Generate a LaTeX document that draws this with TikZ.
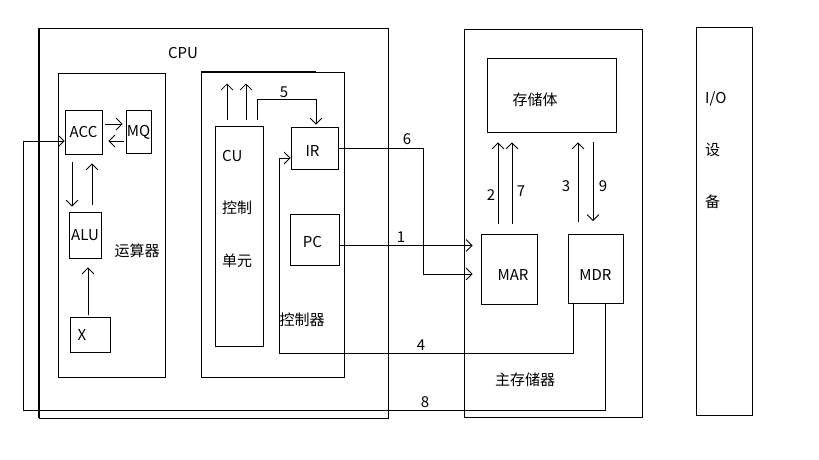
\documentclass[tikz,border=0pt]{standalone}
\usepackage{fontspec}
\setmainfont{Noto Sans CJK SC}
\usepackage{tikz}
\usetikzlibrary{positioning,arrows.meta}
\tikzset{
  blk/.style={draw, line width=0.8pt, inner sep=0pt},
  flow/.style={->, line width=0.8pt},
  wire/.style={line width=0.8pt},
  >={Straight Barb[length=6pt,width=12pt]}
}

\begin{document}
\begin{tikzpicture}[x=1pt, y=-1pt, font=\fontsize{15}{18}\selectfont]
        \useasboundingbox (0,0) rectangle (819,460);
        % containers
        \node [blk, minimum width=349pt, minimum height=390pt] (CPU) at (213.5,223) {};
        \node [blk, minimum width=107pt, minimum height=304pt] (Calc) at (111.5,225) {};
        \node [blk, minimum width=143pt, minimum height=305pt] (Ctrl) at (272.5,224.5) {};
        \node [blk, minimum width=178pt, minimum height=388pt] (Mem) at (553,223) {};
        \node [blk, minimum width=56pt, minimum height=388pt] (IO) at (724,221) {};
        \draw [line width=1.6pt] (CPU.north west) -- (CPU.south west);
        \draw [line width=1.6pt] (Ctrl.north west) -- ++(115,0);
        % arithmetic unit
        \node [blk, minimum width=37pt, minimum height=44pt] (ACC) at (83.5,132) {ACC};
        \node [blk, on grid, right=55pt of ACC, minimum width=25pt, minimum height=43pt] (MQ) {MQ};
        \node [blk, on grid, below right=103pt and 1.5pt of ACC, minimum width=32pt, minimum height=46pt] (ALU) {ALU};
        \node [blk, on grid, below right=202.5pt and 6.5pt of ACC, minimum width=40pt, minimum height=35pt] (X) {\hspace*{-16pt}X};
        % control unit
        \node [blk, minimum width=48pt, minimum height=220pt] (CU) at (239,236) {};
        \node [blk, on grid, above right=88pt and 75.5pt of CU, minimum width=47pt, minimum height=42pt, label={[xshift=-2pt,yshift=-3pt]center:IR}] (IR) {};
        \node [blk, on grid, below=91.5pt of IR, minimum width=49pt, minimum height=51pt, label={[xshift=-2pt,yshift=-3pt]center:PC}] (PC) {};
        % main memory
        \node [blk, minimum width=129pt, minimum height=74pt] (Store) at (551.5,95) {};
        \node [blk, on grid, below left=174pt and 42.5pt of Store, minimum width=56pt, minimum height=70pt, label={[xshift=4pt,yshift=-6pt]center:MAR}] (MAR) {};
        \node [blk, on grid, right=86.5pt of MAR, minimum width=55pt, minimum height=69pt, label={[yshift=-6pt]center:MDR}] (MDR) {};
        % captions
        \node (CPUtext) at (183,53) {CPU};
        \node (Calctext) at (137,251) {运算器};
        \node (Ctrltext) at (302,320) {控制器};
        \node (Memtext) at (525,380) {主存储器};
        \node (Storetext) at (535,100) {存储体};
        \node [anchor=north west, align=left, inner sep=0pt, font=\fontsize{15}{52.5}\selectfont] (CUtext) at (222,150) {CU\\控制\\单元};
        \node [anchor=north west, align=left, inner sep=0pt, font=\fontsize{15}{52}\selectfont] (IOtext) at (705,91) {I/O\\设\\备};
        % arithmetic paths
        \draw [flow, shorten <=3pt, shorten >=3pt] ([yshift=8pt]ACC.east) -- ([yshift=8pt]ACC.east -| MQ.west);
        \draw [flow, shorten <=2pt, shorten >=6pt] ([yshift=-9pt]MQ.west) -- ([yshift=-9pt]MQ.west -| ACC.east);
        \draw [flow, shorten <=8pt, shorten >=5pt] ([xshift=-11.5pt]ACC.south) -- ([xshift=-11.5pt]ACC.south |- ALU.north);
        \draw [flow, shorten <=7pt, shorten >=9pt] ([xshift=7pt]ALU.north) -- ([xshift=7pt]ALU.north |- ACC.south);
        \draw [flow, shorten <=2pt, shorten >=9pt] ([xshift=-2pt]X.north) -- ([xshift=-2pt]X.north |- ALU.south);
        % control paths
        \draw [flow, shorten <=6pt] ([xshift=-12pt]CU.north) -- ++(0,-42);
        \draw [flow, shorten <=6pt] ([xshift=7pt]CU.north) -- ++(0,-42);
        \draw [flow, shorten >=2pt] ([xshift=18pt,yshift=6pt]CU.north) |- (316,99) -- (316,99 |- IR.north);
        \node (L5) at (284,92) {5};
        % memory paths
        \draw [flow, shorten <=10pt, shorten >=10pt] ([xshift=-11pt]MAR.north) -- ([xshift=-11pt]MAR.north |- Store.south);
        \draw [flow, shorten <=10pt, shorten >=10pt] ([xshift=3pt]MAR.north) -- ([xshift=3pt]MAR.north |- Store.south);
        \draw [flow, shorten <=12pt, shorten >=10pt] ([xshift=-17.5pt]MDR.north) -- ([xshift=-17.5pt]MDR.north |- Store.south);
        \draw [flow, shorten <=10pt, shorten >=13pt] ([xshift=-2.5pt]MDR.north |- Store.south) -- ([xshift=-2.5pt]MDR.north);
        \node (L2) at (491,195) {2};
        \node (L7) at (521,191) {7};
        \node (L3) at (566,186) {3};
        \node (L9) at (603,186) {9};
        % buses between CPU and memory
        \draw [flow, shorten >=8pt] (IR.east) -- (423,148) |- ([yshift=-5pt]MAR.west);
        \node (L6) at (407,139) {6};
        \draw [flow, shorten >=8pt] ([yshift=-6pt]PC.east) -- ([yshift=-6pt]PC.east -| MAR.west);
        \node (L1) at (401,237) {1};
        \draw [flow] ([xshift=-22.5pt]MDR.south) |- (279,353) |- ([yshift=-10pt]IR.west);
        \node (L4) at (421,345) {4};
        \draw [flow] ([xshift=9.5pt]MDR.south) |- (23,410) |- ([yshift=-9pt]ACC.west);
        \node (L8) at (425,402) {8};
\end{tikzpicture}
\end{document}
